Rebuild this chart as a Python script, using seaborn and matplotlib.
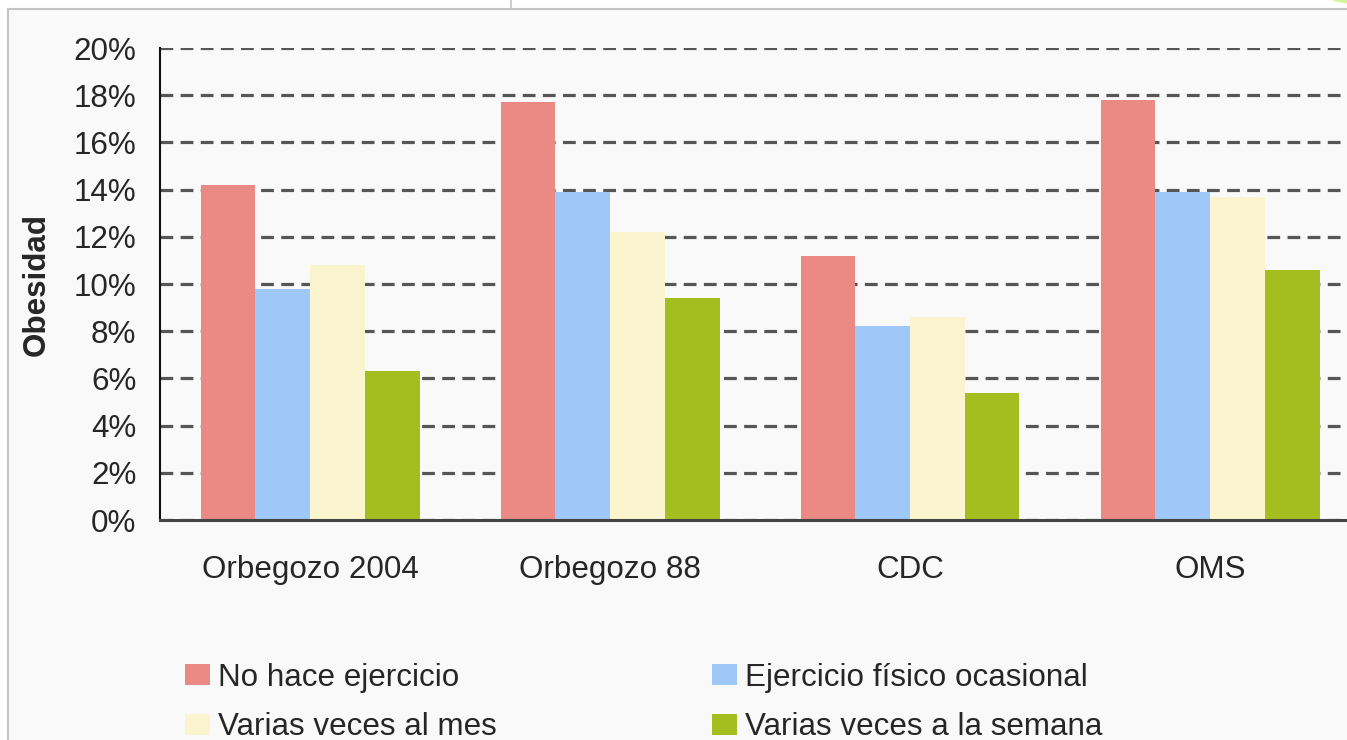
import numpy as np
import pandas as pd
import matplotlib.pyplot as plt
import seaborn as sns
from matplotlib.patches import Rectangle, Ellipse
from matplotlib.lines import Line2D

# Datos del grafico (porcentaje de obesidad)
categorias = ['Orbegozo 2004', 'Orbegozo 88', 'CDC', 'OMS']
series = ['No hace ejercicio', 'Ejercicio físico ocasional',
          'Varias veces al mes', 'Varias veces a la semana']
no_hace = [14.2, 17.7, 11.2, 17.8]
ocasional = [9.8, 13.9, 8.2, 13.9]
varias_mes = [10.8, 12.2, 8.6, 13.7]
varias_semana = [6.3, 9.4, 5.4, 10.6]
colores = ['#EB8A84', '#9DC8F7', '#FAF5CF', '#A3BE1E']
yticks = [0, 2, 4, 6, 8, 10, 12, 14, 16, 18, 20]

valores = [no_hace, ocasional, varias_mes, varias_semana]
df = pd.DataFrame({
    'categoria': categorias * 4,
    'serie': [s for s in series for _ in categorias],
    'valor': [v for fila in valores for v in fila],
})

sns.set_style('white')
plt.rcParams['font.family'] = ['Liberation Sans', 'DejaVu Sans']
FS = 22.6

W, H = 1347, 740
fig = plt.figure(figsize=(W / 100, H / 100), dpi=100, facecolor='white')

# panel de fondo con borde
fig.patches.append(Rectangle((8 / W, -0.01), 1.01, 1.01 - 9 / H, transform=fig.transFigure,
                             facecolor='#f9f9f9', edgecolor='#c4c4c4', lw=1.5, zorder=-5))
fig.lines.append(Line2D([511 / W, 511 / W], [1 - 9 / H, 1], transform=fig.transFigure,
                        color='#c4c4c4', lw=1.2, zorder=-4))
# adorno verde de la esquina
fig.patches.append(Ellipse((1372 / W, 1 + 4 / H), 90 / W, 18 / H, transform=fig.transFigure,
                           facecolor='#d4f59a', edgecolor='none', zorder=-3))

ax = fig.add_axes([160 / W, 220 / H, 1200 / W, 472 / H])
ax.set_facecolor('none')

sns.barplot(data=df, x='categoria', y='valor', hue='serie', order=categorias,
            hue_order=series, palette=colores, saturation=1, width=0.73,
            ax=ax, zorder=3, linewidth=0)

ax.set_xlim(-0.5, 3.5)
ax.set_ylim(0, 20)
ax.set_yticks(yticks)
ax.set_yticklabels([f'{t}%' for t in yticks], fontsize=FS, color='#262626')
ax.tick_params(axis='y', direction='inout', length=20, width=1.5, color='#111111', pad=7)

ax.set_xticks(range(len(categorias)))
ax.set_xticklabels(categorias, fontsize=FS, color='#262626')
ax.set_xticks([0.5, 1.5, 2.5, 3.5], minor=True)
ax.tick_params(axis='x', which='major', length=0, pad=25)
ax.tick_params(axis='x', which='minor', direction='out', length=10, width=1.5, color='#333333')

ax.yaxis.grid(True, linestyle=(0, (4, 2.3)), color='#565656', lw=2.3, zorder=1)
ax.xaxis.grid(False)
ax.set_axisbelow(True)

for s in ['top', 'right']:
    ax.spines[s].set_visible(False)
ax.spines['left'].set_color('#111111')
ax.spines['left'].set_linewidth(1.5)
ax.spines['bottom'].set_color('#444444')
ax.spines['bottom'].set_linewidth(2.2)
ax.spines['bottom'].set_zorder(5)

ax.set_xlabel('')
ax.set_ylabel('Obesidad', fontsize=FS, fontweight='bold', color='#262626')
ax.yaxis.set_label_coords(-108 / 1200, 0.5)

# leyenda en dos columnas
handles, labels = ax.get_legend_handles_labels()
ax.get_legend().remove()
opts = dict(loc='upper left', frameon=False, fontsize=FS, handlelength=0.8,
            handleheight=0.65, handletextpad=0.25, labelspacing=0.62,
            borderpad=0, borderaxespad=0, labelcolor='#262626')
leg1 = fig.legend([handles[0], handles[2]], [labels[0], labels[2]],
                  bbox_to_anchor=(185 / W, 77 / H), **opts)
leg2 = fig.legend([handles[1], handles[3]], [labels[1], labels[3]],
                  bbox_to_anchor=(712 / W, 77 / H), **opts)

plt.savefig('out.png', dpi=100, facecolor='white')
